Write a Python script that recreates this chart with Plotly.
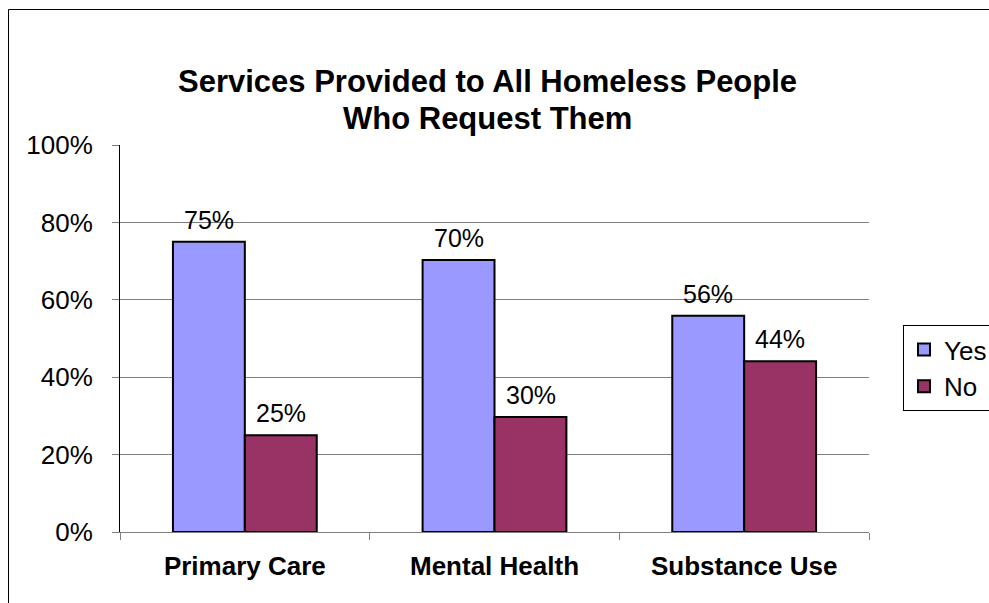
import plotly.graph_objects as go

categories = ["Primary Care", "Mental Health", "Substance Use"]
yes_values = [0.75, 0.703, 0.559]
no_values = [0.25, 0.297, 0.441]
y_ticks = [0, 0.2, 0.4, 0.6, 0.8, 1.0]
title_lines = ["Services Provided to All Homeless People", "Who Request Them"]

W, H = 989, 603
ML, MR, MT, MB = 120, 120, 145, 71
PW, PH = W - ML - MR, H - MT - MB
FONT = "Liberation Sans, Arial, sans-serif"

fig = go.Figure()
fig.add_trace(go.Bar(name="Yes", x=categories, y=yes_values,
                     marker=dict(color="#9999FF", line=dict(color="black", width=2))))
fig.add_trace(go.Bar(name="No", x=categories, y=no_values,
                     marker=dict(color="#993366", line=dict(color="black", width=2))))

def px(x):
    return (x - ML) / PW

def py(y):
    return (H - MB - y) / PH

annotations = []
for cat, yv, nv in zip(categories, yes_values, no_values):
    for val, shift in ((yv, -36), (nv, 36)):
        annotations.append(dict(x=cat, y=val, xref="x", yref="y", xshift=shift,
                                yshift=6, yanchor="bottom", showarrow=False,
                                text=f"{round(val*100)}%",
                                font=dict(family=FONT, size=25, color="black")))

for line, yc in zip(title_lines, (82, 118)):
    annotations.append(dict(x=px(487.5), y=py(yc), xref="paper", yref="paper",
                            xanchor="center", yanchor="middle", showarrow=False,
                            text=f"<b>{line}</b>",
                            font=dict(family=FONT, size=31, color="black")))

fig.add_shape(type="rect", xref="paper", yref="paper",
              x0=px(8.5), y0=py(620), x1=px(1000), y1=py(9.5),
              line=dict(color="black", width=1), fillcolor="rgba(0,0,0,0)", layer="below")

fig.update_layout(
    width=W, height=H,
    margin=dict(l=ML, r=MR, t=MT, b=MB, autoexpand=False),
    paper_bgcolor="white", plot_bgcolor="white",
    barmode="group", bargap=0.424, bargroupgap=0,
    font=dict(family=FONT, color="black"),
    legend=dict(x=px(903), y=py(325), xanchor="left", yanchor="top",
                bordercolor="black", borderwidth=1, bgcolor="white",
                font=dict(family=FONT, size=26, color="black"), itemwidth=30),
    annotations=annotations,
    xaxis=dict(showline=True, linecolor="#808080", linewidth=1,
               ticks="outside", tickson="boundaries", ticklen=7, tickcolor="#808080",
               showgrid=False,
               tickfont=dict(family=FONT, size=26, color="black"),
               tickprefix="<b>", ticksuffix="</b>", ticklabelstandoff=11),
    yaxis=dict(range=[0, 1], tickvals=y_ticks, tickformat=".0%",
               showline=True, linecolor="black", linewidth=1,
               ticks="outside", ticklen=7, tickcolor="#808080",
               showgrid=True, gridcolor="#808080", gridwidth=1, zeroline=False,
               tickfont=dict(family=FONT, size=26, color="black"), ticklabelstandoff=14),
)

fig.write_html("out.html")
